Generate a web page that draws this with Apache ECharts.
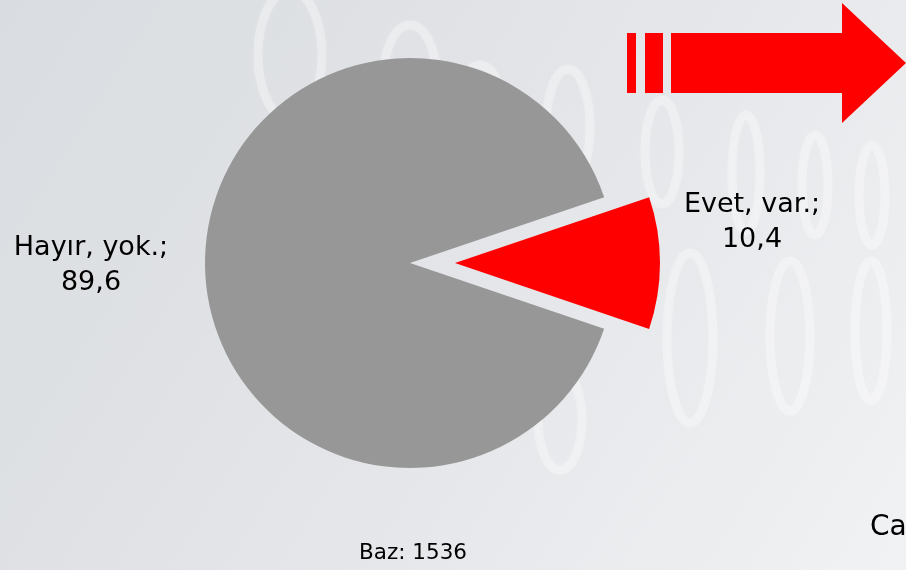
<!DOCTYPE html>
<html>
<head>
<meta charset="utf-8">
<script src="https://cdn.jsdelivr.net/npm/echarts@6/dist/echarts.min.js"></script>
<style>
html, body { margin: 0; padding: 0; }
#chart { width: 906px; height: 570px; }
</style>
</head>
<body>
<div id="chart"></div>
<script>
// veriler
var categories = ['Evet, var.', 'Hayır, yok.'];
var values = [10.4, 89.6];
var colors = ['#ff0000', '#979797'];
var baseText = 'Baz: 1536';

// etiket merkezleri
var labelPos = [[752, 222], [91, 265]];

var myChart = echarts.init(document.getElementById('chart'));

var pieData = [];
for (var i in categories) {
	pieData.push({
		name: categories[i],
		value: values[i],
		selected: i == 0,
		itemStyle: { color: colors[i] }
	});
}

// arka plandaki soluk sifirlar
var zeros = [
	[290, 55, 32, 65], [410, 75, 26, 50], [480, 110, 22, 45], [568, 127, 22, 58],
	[662, 152, 17, 52], [746, 173, 14, 58], [815, 185, 13, 50], [872, 195, 13, 50],
	[690, 338, 23, 85], [790, 336, 20, 75], [871, 331, 16, 70], [560, 420, 22, 50]
];
var bg = [{
	type: 'rect', z: -10, silent: true,
	shape: { x: 0, y: 0, width: 906, height: 570 },
	style: {
		fill: new echarts.graphic.LinearGradient(0, 0, 1, 1, [
			{ offset: 0, color: '#d9dce0' },
			{ offset: 0.5, color: '#e3e5e8' },
			{ offset: 1, color: '#f1f2f4' }
		])
	}
}];
for (var j in zeros) {
	bg.push({
		type: 'ellipse', z: -9, silent: true,
		shape: { cx: zeros[j][0], cy: zeros[j][1], rx: zeros[j][2], ry: zeros[j][3] },
		style: {
			fill: null, stroke: 'rgba(255,255,255,0.3)', lineWidth: 9,
			shadowBlur: 6, shadowColor: 'rgba(255,255,255,0.4)'
		}
	});
}
// kirmizi ok
bg.push({ type: 'rect', silent: true, shape: { x: 627, y: 33, width: 9, height: 60 }, style: { fill: '#ff0000' } });
bg.push({ type: 'rect', silent: true, shape: { x: 645, y: 33, width: 18, height: 60 }, style: { fill: '#ff0000' } });
bg.push({
	type: 'polygon', silent: true,
	shape: { points: [[671, 33], [842, 33], [842, 3], [906, 63], [842, 123], [842, 93], [671, 93]] },
	style: { fill: '#ff0000' }
});
// etiketler
for (var k in categories) {
	bg.push({
		type: 'text', silent: true, z: 10,
		x: labelPos[k][0], y: labelPos[k][1],
		style: {
			text: categories[k] + ';\n' + String(values[k]).replace('.', ','),
			fontFamily: 'DejaVu Sans', fontSize: 27, lineHeight: 35,
			fill: '#000', align: 'center', verticalAlign: 'middle'
		}
	});
}
bg.push({
	type: 'text', silent: true, x: 413, y: 553,
	style: { text: baseText, fontFamily: 'DejaVu Sans', fontSize: 21.5, fill: '#000', align: 'center', verticalAlign: 'middle' }
});
bg.push({
	type: 'text', silent: true, x: 870, y: 528,
	style: { text: 'Ca', fontFamily: 'DejaVu Sans', fontSize: 28, fill: '#000', verticalAlign: 'middle' }
});

myChart.setOption({
	animation: false,
	graphic: bg,
	series: [{
		type: 'pie',
		center: [410, 263],
		radius: 205,
		startAngle: 18.7,
		selectedMode: 'single',
		selectedOffset: 45,
		emphasis: { disabled: true },
		label: { show: false },
		labelLine: { show: false },
		data: pieData
	}]
});
</script>
</body>
</html>
